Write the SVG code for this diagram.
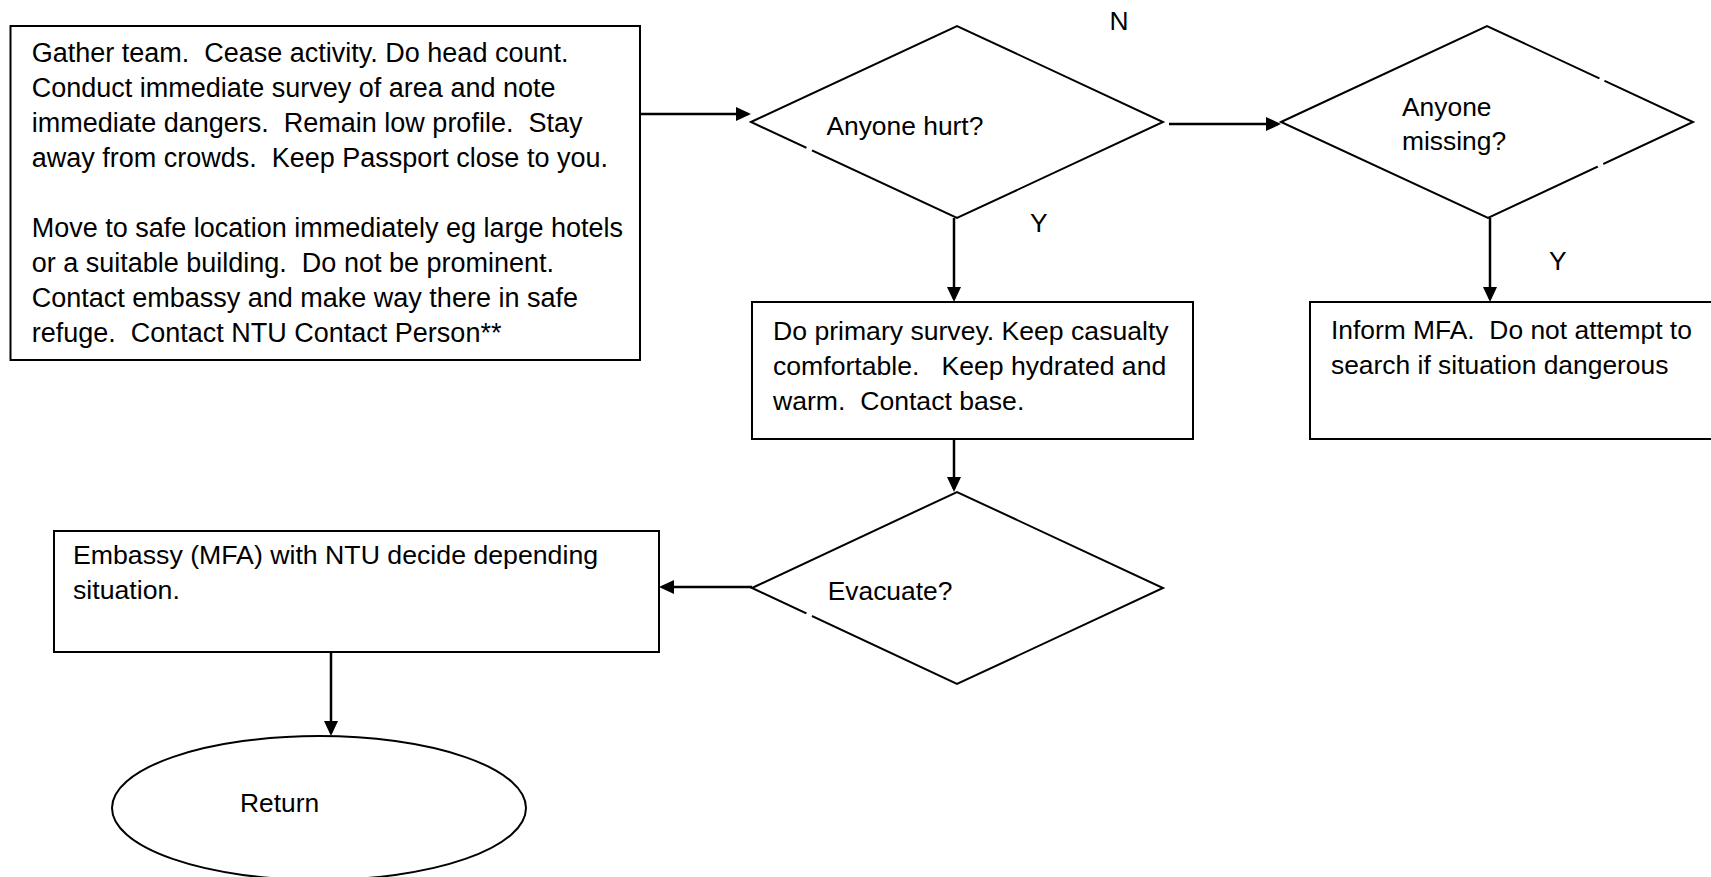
<svg xmlns="http://www.w3.org/2000/svg" width="1711" height="877" viewBox="0 0 1711 877">
<style>
text{font-family:"Liberation Sans",Arial,sans-serif;font-size:26.4px;fill:#000;white-space:pre}
.box{fill:#fff;stroke:#000;stroke-width:2}
.dia{fill:#fff;stroke:#000;stroke-width:2}
.gap{fill:none;stroke:#fff;stroke-width:4}
.con{fill:none;stroke:#000;stroke-width:2.5}
</style>
<defs>
<marker id="ah" markerUnits="userSpaceOnUse" markerWidth="16" markerHeight="16" refX="12" refY="7" orient="auto">
<path d="M0,0 L15,7 L0,14 z" fill="#000"/>
</marker>
</defs>
<rect width="1711" height="877" fill="#fff"/>
<g id="connectors">
<path class="con" d="M640,114 H748" marker-end="url(#ah)"/>
<path class="con" d="M1169,124 H1278" marker-end="url(#ah)"/>
<path class="con" d="M954,218 V299" marker-end="url(#ah)"/>
<path class="con" d="M1490,218 V299" marker-end="url(#ah)"/>
<path class="con" d="M954,439 V489" marker-end="url(#ah)"/>
<path class="con" d="M752,587 H662" marker-end="url(#ah)"/>
<path class="con" d="M331,652 V733" marker-end="url(#ah)"/>
</g>
<g id="start" style="font-size:27px">
<rect class="box" x="10.5" y="26" width="629.5" height="334"/>
<text x="31.7" y="62" style="font-size:27px">Gather team.  Cease activity. Do head count.</text>
<text x="31.7" y="97" style="font-size:27px">Conduct immediate survey of area and note</text>
<text x="31.7" y="132" style="font-size:27px">immediate dangers.  Remain low profile.  Stay</text>
<text x="31.7" y="167" style="font-size:27px">away from crowds.  Keep Passport close to you.</text>
<text x="31.7" y="237" style="font-size:27px">Move to safe location immediately eg large hotels</text>
<text x="31.7" y="272" style="font-size:27px">or a suitable building.  Do not be prominent.</text>
<text x="31.7" y="307" style="font-size:27px">Contact embassy and make way there in safe</text>
<text x="31.7" y="342" style="font-size:27px">refuge.  Contact NTU Contact Person**</text>
</g>
<g id="hurt">
<polygon class="dia" points="751,122 957,26 1163,122 957,218"/>
<path class="gap" d="M806.5,147.8 L812,150.4"/>
<text x="826.4" y="135">Anyone hurt?</text>
</g>
<g id="missing">
<polygon class="dia" points="1281,122 1487,26 1693,122 1488,218"/>
<path class="gap" d="M1599.5,78.3 L1604.5,80.6 M1597.5,166 L1603,163.4"/>
<text x="1402" y="116">Anyone</text>
<text x="1402" y="150">missing?</text>
</g>
<g id="survey">
<rect class="box" x="752" y="302" width="441" height="137"/>
<text x="773" y="340" style="font-size:26.6px">Do primary survey. Keep casualty</text>
<text x="773" y="375" style="font-size:26.6px">comfortable.   Keep hydrated and</text>
<text x="773" y="410" style="font-size:26.6px">warm.  Contact base.</text>
</g>
<g id="inform">
<rect class="box" x="1310" y="302" width="420" height="137"/>
<text x="1331" y="339">Inform MFA.  Do not attempt to</text>
<text x="1331" y="374">search if situation dangerous</text>
</g>
<g id="evacuate">
<polygon class="dia" points="752,588 957,492 1163,588 957,684"/>
<path class="gap" d="M806.5,613.3 L812,615.9"/>
<text x="827.7" y="600">Evacuate?</text>
</g>
<g id="embassy">
<rect class="box" x="54" y="531" width="605" height="121"/>
<text x="73" y="564" style="font-size:26.7px">Embassy (MFA) with NTU decide depending</text>
<text x="73" y="599" style="font-size:26.7px">situation.</text>
</g>
<g id="return">
<ellipse class="box" cx="319" cy="808" rx="207" ry="72"/>
<text x="240" y="812">Return</text>
</g>
<g id="labels">
<text x="1109.6" y="29.5">N</text>
<text x="1030" y="232">Y</text>
<text x="1549" y="270">Y</text>
</g>
</svg>
